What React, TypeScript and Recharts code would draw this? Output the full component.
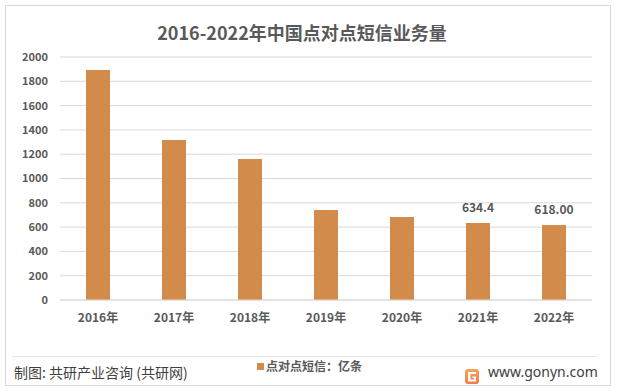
import { BarChart, Bar, XAxis, YAxis, CartesianGrid, LabelList } from "recharts";

const years = ["2016年", "2017年", "2018年", "2019年", "2020年", "2021年", "2022年"];
const volumes = [1893, 1317, 1160, 741, 683, 634.4, 618];
const shownLabels = ["", "", "", "", "", "634.4", "618.00"];
const yTicks = [0, 200, 400, 600, 800, 1000, 1200, 1400, 1600, 1800, 2000];

const data = years.map((year, i) => ({ year, value: volumes[i], label: shownLabels[i] }));

const FONT = "'Noto Sans CJK SC', 'Noto Sans', sans-serif";
const BAR_COLOR = "#D38B4C";
const TEXT = "#595959";

// only a few bars carry a value label
const ValueLabel = (props: any) => {
  const { x, y, width, index } = props;
  const text = shownLabels[index];
  if (!text) return null;
  return (
    <text
      x={x + width / 2}
      y={y - 11}
      textAnchor="middle"
      fontSize={12}
      fontWeight="bold"
      fill={TEXT}
      fontFamily={FONT}
    >
      {text}
    </text>
  );
};

const Logo = () => (
  <svg width={14} height={15} viewBox="0 0 14 15">
    <defs>
      <linearGradient id="lg" x1="0" y1="0" x2="0" y2="1">
        <stop offset="0" stopColor="#F7A35C" />
        <stop offset="1" stopColor="#F07A4A" />
      </linearGradient>
    </defs>
    <rect x={0} y={0} width={14} height={15} rx={3} fill="url(#lg)" />
    <path d="M3 3 H11 V5 H5.5 V10.5 H9 V9 H7.5 V7.5 H11 V12.5 H3 Z" fill="#fff" />
  </svg>
);

const App = () => {
  return (
    <div
      style={{
        position: "absolute",
        left: 0,
        top: 0,
        width: 617,
        height: 392,
        background: "#fff",
        fontFamily: FONT,
      }}
    >
      {/* outer frame */}
      <div
        style={{
          position: "absolute",
          left: 5,
          top: 5,
          width: 604,
          height: 379,
          border: "1px solid #D9D9D9",
        }}
      />
      <div
        style={{
          position: "absolute",
          left: 0,
          top: 18,
          width: 604,
          textAlign: "center",
          fontSize: 18,
          fontWeight: "bold",
          color: TEXT,
          lineHeight: "28px",
        }}
      >
        2016-2022年中国点对点短信业务量
      </div>

      <div style={{ position: "absolute", left: 0, top: 0 }}>
        <BarChart
          width={617}
          height={330}
          data={data}
          margin={{ top: 57, right: 25, left: 0, bottom: 0 }}
        >
          <CartesianGrid vertical={false} stroke="#D9D9D9" />
          <XAxis
            dataKey="year"
            axisLine={{ stroke: "#D9D9D9" }}
            tickLine={false}
            tickMargin={7}
            height={30}
            tick={{ fontSize: 12, fill: TEXT, fontWeight: "bold", fontFamily: FONT }}
          />
          <YAxis
            domain={[0, 2000]}
            ticks={yTicks}
            width={60}
            axisLine={false}
            tickLine={false}
            tickMargin={6}
            tick={{ fontSize: 11, fill: TEXT, fontWeight: "bold", fontFamily: FONT }}
          />
          <Bar dataKey="value" fill={BAR_COLOR} barSize={24} isAnimationActive={false}>
            <LabelList dataKey="label" content={<ValueLabel />} />
          </Bar>
        </BarChart>
      </div>

      {/* footer */}
      <div
        style={{
          position: "absolute",
          left: 12,
          top: 356,
          width: 586,
          height: 1,
          background: "#E6E6E6",
        }}
      />
      <div
        style={{
          position: "absolute",
          left: 14,
          top: 362,
          fontSize: 14,
          color: "#404040",
          lineHeight: "20px",
        }}
      >
        制图: 共研产业咨询 (共研网)
      </div>
      <div
        style={{
          position: "absolute",
          left: 257,
          top: 358,
          fontSize: 12,
          fontWeight: "bold",
          color: TEXT,
          lineHeight: "16px",
          display: "flex",
          alignItems: "center",
        }}
      >
        <span
          style={{ display: "inline-block", width: 7, height: 7, background: BAR_COLOR, marginRight: 2 }}
        />
        点对点短信：亿条
      </div>
      <div style={{ position: "absolute", left: 465, top: 365 }}>
        <Logo />
      </div>
      <div
        style={{
          position: "absolute",
          left: 488,
          top: 362,
          fontSize: 14,
          color: "#404040",
          lineHeight: "20px",
          fontFamily: "'Noto Sans', sans-serif",
        }}
      >
        www.gonyn.com
      </div>
    </div>
  );
};

export default App;
